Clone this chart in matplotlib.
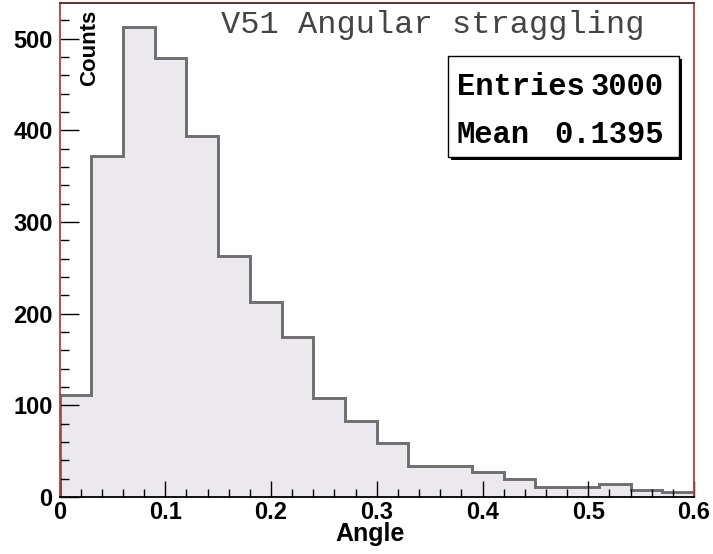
import numpy as np
import matplotlib
matplotlib.use("Agg")
import matplotlib.pyplot as plt
from matplotlib.patches import Rectangle
from matplotlib.ticker import MultipleLocator

# histogram data: 20 bins of width 0.03 from 0 to 0.6
bin_edges = np.linspace(0.0, 0.6, 21)
counts = [111, 372, 513, 479, 394, 263, 213, 175, 108, 83,
          59, 34, 34, 27, 20, 11, 11, 14, 8, 6]

title = "V51 Angular straggling"
n_entries = 3000
mean_val = 0.1395

W, H = 713, 554
fig = plt.figure(figsize=(W / 100, H / 100), dpi=100)
fig.patch.set_facecolor("white")


def fx(px):
    return px / W


def fy(py):
    return 1 - py / H


ax = fig.add_axes([fx(59.5), fy(497), fx(694) - fx(59.5), fy(3) - fy(497)])

ax.stairs(counts, bin_edges, fill=True, color="#ebe9ed", baseline=0)
ax.stairs(counts, bin_edges, fill=False, color="#6e6e6e", linewidth=2.1, baseline=0)

ax.set_xlim(0, 0.6)
ax.set_ylim(0, 539)

ax.xaxis.set_major_locator(MultipleLocator(0.1))
ax.xaxis.set_minor_locator(MultipleLocator(0.02))
ax.yaxis.set_major_locator(MultipleLocator(100))
ax.yaxis.set_minor_locator(MultipleLocator(20))
ax.xaxis.set_major_formatter(plt.FuncFormatter(lambda v, p: "0" if abs(v) < 1e-9 else "%.1f" % v))

ax.tick_params(axis="x", which="major", direction="in", length=11.5, width=1, pad=3)
ax.tick_params(axis="x", which="minor", direction="in", length=5.8, width=1)
ax.tick_params(axis="y", which="major", direction="in", length=13.5, width=1, pad=5)
ax.tick_params(axis="y", which="minor", direction="in", length=6.5, width=1)
for t in ax.get_xticklabels() + ax.get_yticklabels():
    t.set_fontfamily("Liberation Sans")
    t.set_fontweight("bold")
    t.set_fontsize(17)

ax.spines["left"].set_color("#c03a3a")
ax.spines["right"].set_color("#c03a3a")
ax.spines["top"].set_color("#5a2020")
ax.spines["bottom"].set_color("black")
for s in ax.spines.values():
    s.set_linewidth(1.3)

# axis titles (ROOT style, aligned at the axis ends)
fig.text(fx(370), fy(541), "Angle", ha="center", va="baseline",
         family="Liberation Sans", weight="bold", size=18)
fig.text(fx(100), fy(10), "Counts", ha="right", va="top", rotation=90,
         family="Liberation Sans", weight="bold", size=16)

# histogram title
fig.text(fx(221), fy(33), title, ha="left", va="baseline",
         family="Liberation Mono", size=23, color="#444444")

# stats box with shadow
bx0, bx1, by0, by1 = 447.5, 679, 56, 157
fig.patches.append(Rectangle((fx(bx0 + 3), fy(by1 + 3)), fx(bx1) - fx(bx0), fy(by0) - fy(by1),
                             transform=fig.transFigure, facecolor="black", edgecolor="none"))
fig.patches.append(Rectangle((fx(bx0), fy(by1)), fx(bx1) - fx(bx0), fy(by0) - fy(by1),
                             transform=fig.transFigure, facecolor="white", edgecolor="black",
                             linewidth=1))
stat = dict(family="Liberation Mono", weight="bold", size=22, va="baseline")
fig.text(fx(457), fy(95), "Entries", ha="left", **stat)
fig.text(fx(664), fy(95), str(n_entries), ha="right", **stat)
fig.text(fx(457), fy(143), "Mean", ha="left", **stat)
fig.text(fx(664), fy(143), "%.4f" % mean_val, ha="right", **stat)

fig.savefig("out.png", dpi=100)
